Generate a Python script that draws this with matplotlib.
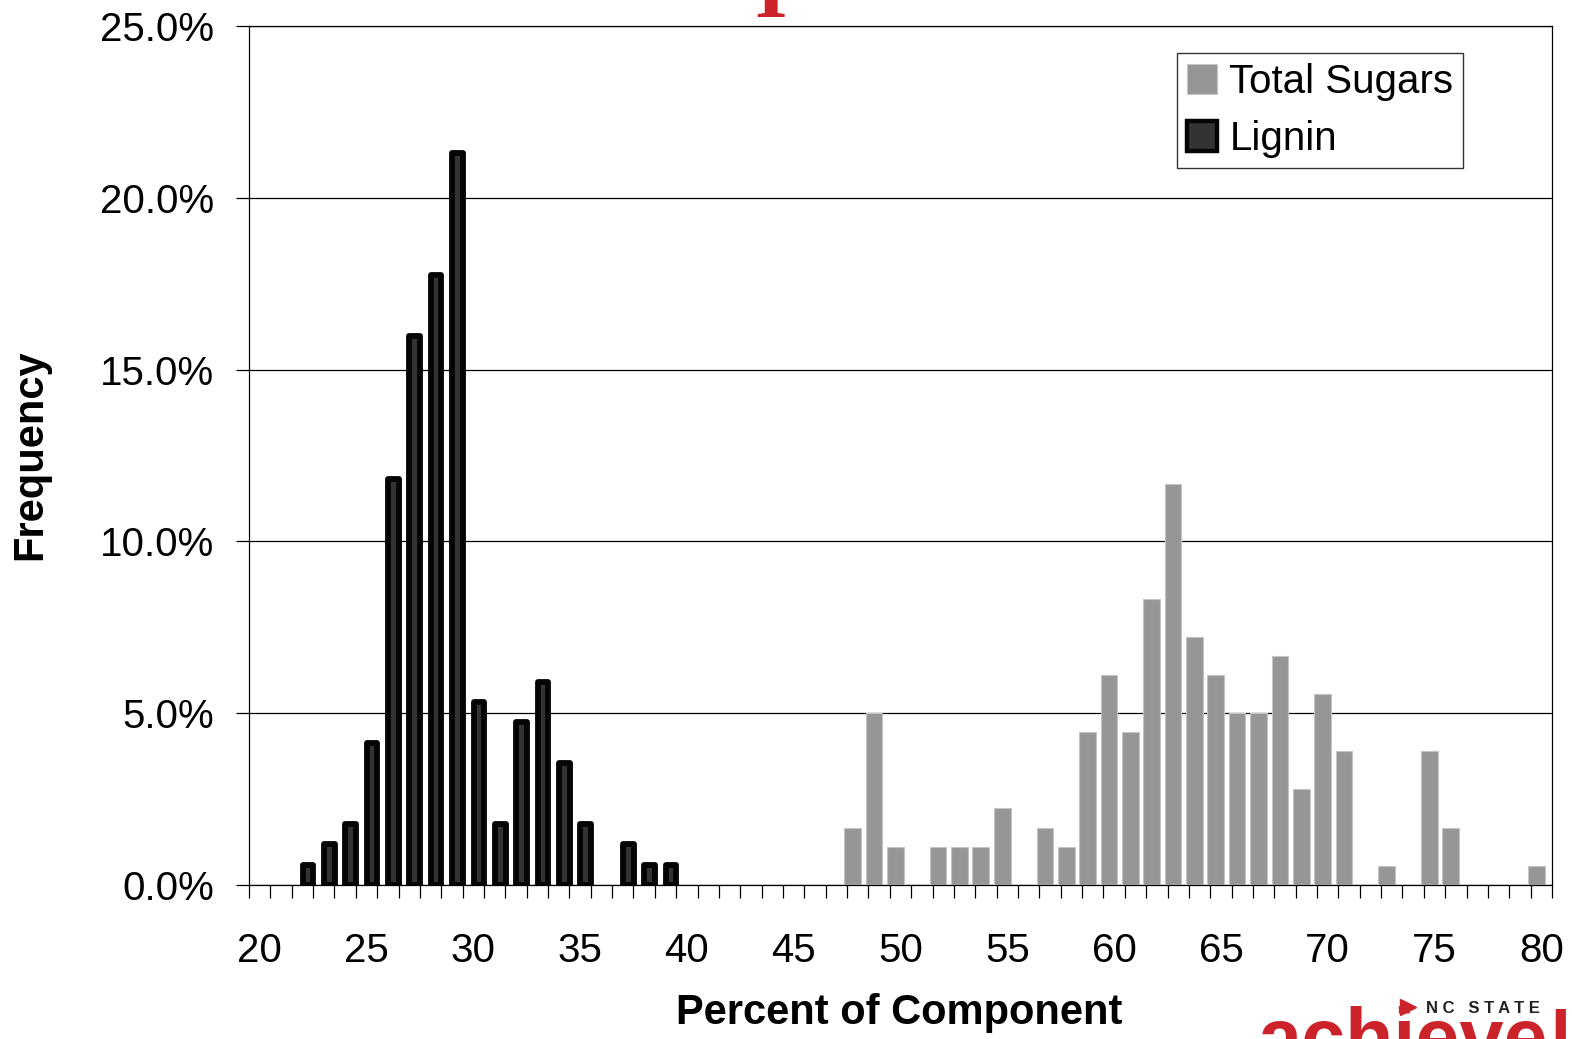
import numpy as np
import matplotlib
matplotlib.use('Agg')
import matplotlib.pyplot as plt
from matplotlib.lines import Line2D
from matplotlib.patches import Patch
from matplotlib.ticker import PercentFormatter

plt.rcParams['font.family'] = ['Liberation Sans', 'DejaVu Sans']

# category axis: one bin per whole percent
categories = list(range(20, 81))
tick_labels = ['20', '25', '30', '35', '40', '45', '50', '55', '60', '65', '70', '75', '80']

sugar_bins = [48, 49, 50, 52, 53, 54, 55, 57, 58, 59, 60, 61, 62, 63,
              64, 65, 66, 67, 68, 69, 70, 71, 73, 75, 76, 80]
sugar_freq = [1.67, 5.00, 1.11, 1.11, 1.11, 1.11, 2.25, 1.67, 1.11, 4.44, 6.11, 4.44, 8.33, 11.67,
              7.22, 6.11, 5.00, 5.00, 6.67, 2.78, 5.56, 3.89, 0.56, 3.89, 1.67, 0.56]

lignin_bins = [22, 23, 24, 25, 26, 27, 28, 29, 30, 31, 32, 33, 34, 35, 37, 38, 39]
lignin_freq = [0.59, 1.18, 1.78, 4.14, 11.83, 15.98, 17.75, 21.30, 5.33, 1.78,
               4.73, 5.92, 3.55, 1.78, 1.18, 0.59, 0.59]

SUGAR_COLOR = '#969696'
LIGNIN_FILL = '#333333'
RED = '#cc2229'

W, H = 1572, 1039
fig = plt.figure(figsize=(W / 100, H / 100), dpi=100)
ax = fig.add_axes([249 / W, 1 - 885 / H, (1552 - 249) / W, (885 - 26) / H])

pos = {c: i for i, c in enumerate(categories)}

xs = [pos[b] - 0.24 for b in sugar_bins]
ax.bar(xs, sugar_freq, width=0.78, color=SUGAR_COLOR, edgecolor='#c4c4c4',
       linewidth=0.8, zorder=3)

xl = [pos[b] + 0.26 for b in lignin_bins]
ax.bar(xl, lignin_freq, width=0.50, color=LIGNIN_FILL, edgecolor='#050505',
       linewidth=4.2, joinstyle='round', zorder=3)

ax.set_xlim(-0.5, len(categories) - 0.5)
ax.set_ylim(0, 25)

# y axis
ax.set_yticks(np.arange(0, 26, 5))
ax.yaxis.set_major_formatter(PercentFormatter(xmax=100, decimals=1))
ax.yaxis.grid(True, color='black', linewidth=0.9)
ax.set_axisbelow(True)
ax.tick_params(axis='y', direction='out', length=9.4, width=0.9, pad=16, labelsize=29)

# x axis: tick marks between bins, labels every 5
ax.set_xticks(np.arange(-0.5, len(categories)))
ax.set_xticklabels([])
ax.set_xticks([pos[int(t)] for t in tick_labels], minor=True)
ax.set_xticklabels(tick_labels, minor=True)
ax.tick_params(axis='x', which='major', direction='out', length=9.4, width=0.9)
ax.tick_params(axis='x', which='minor', length=0, pad=34, labelsize=29)

for s in ax.spines.values():
    s.set_color('black')
    s.set_linewidth(0.9)

fig.text(899 / W, 1 - 1013 / H, 'Percent of Component', ha='center', va='center',
         fontsize=30, fontweight='bold')
fig.text(30 / W, 1 - 455 / H, 'Frequency', rotation=90, ha='center', va='center',
         fontsize=30, fontweight='bold')

handles = [Patch(facecolor=SUGAR_COLOR, edgecolor='#c4c4c4', linewidth=0.8),
           Patch(facecolor=LIGNIN_FILL, edgecolor='#050505', linewidth=3.2)]
leg = ax.legend(handles, ['Total Sugars', 'Lignin'], loc='upper left',
                bbox_to_anchor=(1177 / W, 1 - 53 / H), bbox_transform=fig.transFigure,
                borderaxespad=0, fontsize=29, fancybox=False, framealpha=1,
                edgecolor='#333333', handlelength=0.76, handleheight=0.76,
                handletextpad=0.3, labelspacing=0.48, borderpad=0.24)
leg.get_frame().set_linewidth(1.0)

# slide furniture: title stub at top, logo at bottom right
fig.text(770 / W, 1 - 17 / H, 'I', family='Liberation Serif', fontweight='bold',
         fontsize=60, color=RED, ha='center', va='baseline')
fig.text(1258 / W, 1 - 1064 / H, 'achieve!', fontsize=57, fontweight='bold',
         color=RED, ha='left', va='baseline')
fig.add_artist(Line2D([1408 / W], [1 - 1007 / H], marker='>', markersize=12,
                      color=RED, linestyle='none', transform=fig.transFigure))
fig.text(1426 / W, 1 - 1013 / H, 'N C   S T A T E', fontsize=12, fontweight='bold',
         color='#222222', ha='left', va='baseline')

fig.savefig('out.png', dpi=100)
